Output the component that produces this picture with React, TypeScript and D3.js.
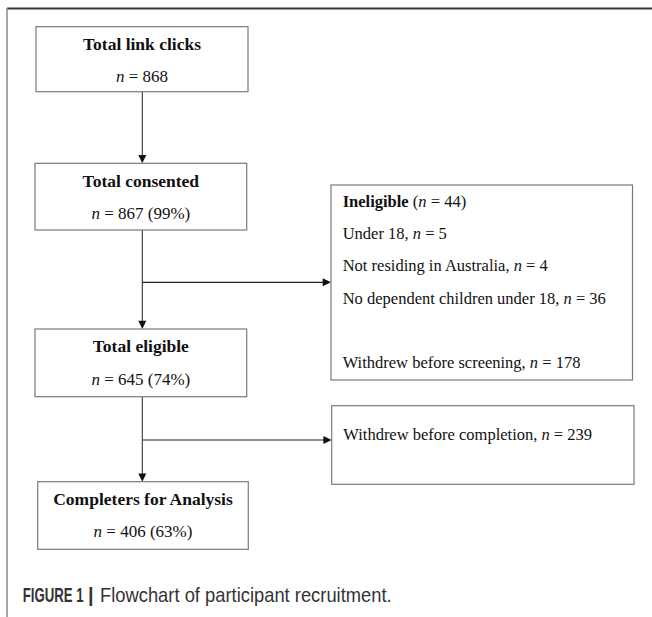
import React from "react";
import * as d3 from "d3";

// ---- data ----
const mainTitles = ["Total link clicks", "Total consented", "Total eligible", "Completers for Analysis"];
const mainCounts = [868, 867, 645, 406];
const mainPercents = ["", "99%", "74%", "63%"];

const ineligibleTitle = "Ineligible";
const ineligibleTotal = 44;
const ineligibleReasons = ["Under 18", "Not residing in Australia", "No dependent children under 18"];
const ineligibleCounts = [5, 4, 36];
const withdrawLabels = ["Withdrew before screening", "Withdrew before completion"];
const withdrawCounts = [178, 239];

const captionBold = "FIGURE 1";
const captionSep = "|";
const captionText = "Flowchart of participant recruitment.";

// ---- layout ----
const W = 652;
const H = 617;
const mainTop = [26.7, 163.3, 329, 481.7];
const mainBottom = [91.7, 230, 396.7, 549.3];
const mainLeft = [36, 35, 35, 37.7];
const mainRight = [248, 246.7, 246.7, 248.3];
const cx = 142.3;

const serif = "'Liberation Serif', 'Times New Roman', serif";
const sans = "'Liberation Sans', Arial, sans-serif";

function NText({ x, y, count, pct, anchor }: { x: number; y: number; count: number; pct?: string; anchor: string }) {
  return (
    <text x={x} y={y} textAnchor={anchor as any} fontFamily={serif} fontSize={17} fill="#111">
      <tspan fontStyle="italic">n</tspan>
      <tspan>{` = ${count}${pct ? ` (${pct})` : ""}`}</tspan>
    </text>
  );
}

export default function App() {
  const arrowV = (x: number, y: number) => `M${x - 4},${y - 8.3}L${x + 4},${y - 8.3}L${x},${y}Z`;
  const arrowH = (x: number, y: number) => `M${x - 8.3},${y - 4}L${x - 8.3},${y + 4}L${x},${y}Z`;

  const sideBoxes = [
    { x0: 331, x1: 632.5, y0: 185, y1: 380 },
    { x0: 331.7, x1: 634, y0: 405.7, y1: 484.3 },
  ];
  const sideArrowY = [282.3, 440];

  const ineligLines = ineligibleReasons.map((r, i) => ({ label: r, n: ineligibleCounts[i] }));
  const ineligBase = d3.scaleLinear().domain([0, 1]).range([207, 239.2]);

  return (
    <svg width={W} height={H} style={{ position: "absolute", left: 0, top: 0, background: "#fff" }}>
      <rect x={0} y={0} width={W} height={H} fill="#fff" />
      {/* frame */}
      <line x1={7} y1={8.5} x2={W} y2={8.5} stroke="#3a3a3a" strokeWidth={2} />
      <line x1={7} y1={8} x2={7} y2={H} stroke="#8a8a8a" strokeWidth={1.5} />

      {/* vertical connectors */}
      {mainTitles.slice(0, -1).map((_, i) => (
        <g key={"v" + i}>
          <line x1={cx} y1={mainBottom[i]} x2={cx} y2={mainTop[i + 1] - 7} stroke="#222" strokeWidth={1} />
          <path d={arrowV(cx, mainTop[i + 1])} fill="#111" />
        </g>
      ))}

      {/* side connectors */}
      {sideArrowY.map((y, i) => (
        <g key={"h" + i}>
          <line x1={cx} y1={y} x2={sideBoxes[i].x0 - 7} y2={y} stroke="#222" strokeWidth={1.2} />
          <path d={arrowH(sideBoxes[i].x0, y)} fill="#111" />
        </g>
      ))}

      {/* main boxes */}
      {mainTitles.map((t, i) => {
        const mx = (mainLeft[i] + mainRight[i]) / 2;
        return (
          <g key={"m" + i}>
            <rect x={mainLeft[i]} y={mainTop[i]} width={mainRight[i] - mainLeft[i]} height={mainBottom[i] - mainTop[i]}
              fill="#fff" stroke="#7a7a7a" strokeWidth={1.2} />
            <text x={mx} y={mainTop[i] + 23.3} textAnchor="middle" fontFamily={serif} fontWeight="bold" fontSize={17.5} fill="#111">{t}</text>
            <NText x={mx} y={mainTop[i] + 55.5} count={mainCounts[i]} pct={mainPercents[i]} anchor="middle" />
          </g>
        );
      })}

      {/* side boxes */}
      {sideBoxes.map((b, i) => (
        <rect key={"s" + i} x={b.x0} y={b.y0} width={b.x1 - b.x0} height={b.y1 - b.y0} fill="#fff" stroke="#7a7a7a" strokeWidth={1.2} />
      ))}

      {/* ineligible text */}
      <text x={342.7} y={ineligBase(0)} fontFamily={serif} fontSize={16.5} fill="#111">
        <tspan fontWeight="bold">{ineligibleTitle}</tspan>
        <tspan>{" ("}</tspan>
        <tspan fontStyle="italic">n</tspan>
        <tspan>{` = ${ineligibleTotal})`}</tspan>
      </text>
      {ineligLines.map((d, i) => (
        <text key={"r" + i} x={342.7} y={ineligBase(i + 1)} fontFamily={serif} fontSize={16.5} fill="#111">
          <tspan>{d.label + ", "}</tspan>
          <tspan fontStyle="italic">n</tspan>
          <tspan>{` = ${d.n}`}</tspan>
        </text>
      ))}
      {withdrawLabels.map((l, i) => (
        <text key={"w" + i} x={i === 0 ? 342.7 : 343.3} y={i === 0 ? 367.5 : 440} fontFamily={serif} fontSize={16.5} fill="#111">
          <tspan>{l + ", "}</tspan>
          <tspan fontStyle="italic">n</tspan>
          <tspan>{` = ${withdrawCounts[i]}`}</tspan>
        </text>
      ))}

      {/* caption */}
      <text transform="translate(22.7,602) scale(0.66,1)" fontFamily={sans} fontWeight="bold" fontSize={20} fill="#333">
        {captionBold}
      </text>
      <text transform="translate(88,602)" fontFamily={sans} fontWeight="bold" fontSize={20} fill="#333">
        {captionSep}
      </text>
      <text transform="translate(100,602) scale(0.918,1)" fontFamily={sans} fontSize={20} fill="#333">
        {captionText}
      </text>
    </svg>
  );
}
